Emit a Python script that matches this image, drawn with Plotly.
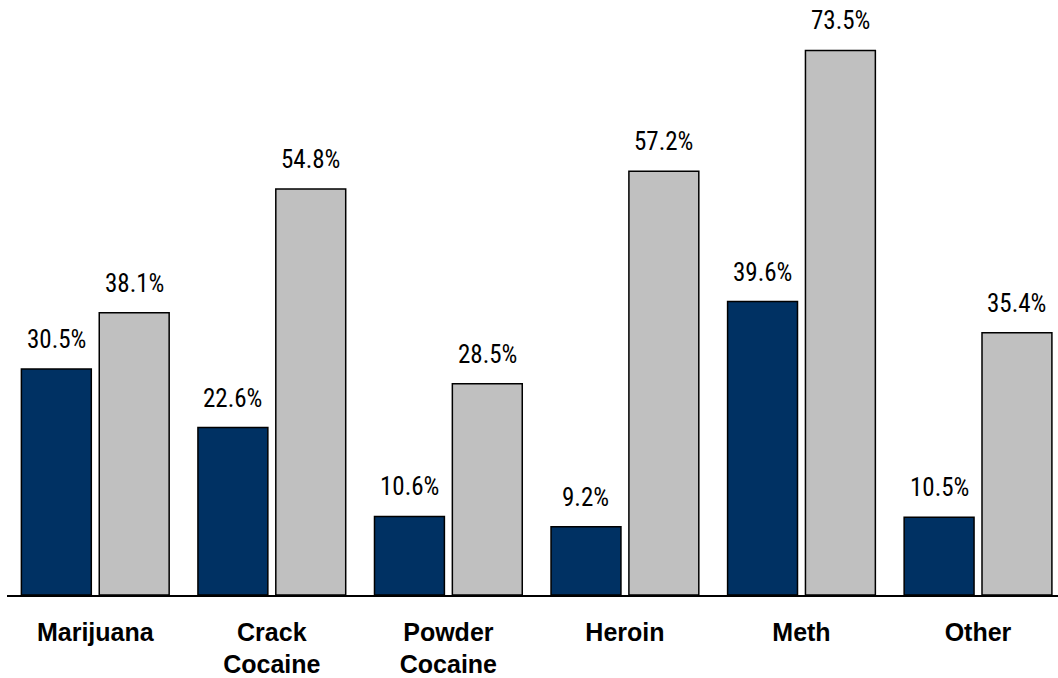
import plotly.graph_objects as go

categories = ["Marijuana", "Crack<br>Cocaine", "Powder<br>Cocaine", "Heroin", "Meth", "Other"]
series_a = [30.5, 22.6, 10.6, 9.2, 39.6, 10.5]
series_b = [38.1, 54.8, 28.5, 57.2, 73.5, 35.4]

navy = "#003163"
gray = "#C0C0C0"
bar_w = 0.396
gap = 0.045
off_a = -(bar_w + gap / 2)
off_b = gap / 2

x = list(range(len(categories)))

fig = go.Figure()
fig.add_trace(go.Bar(x=x, y=series_a, width=bar_w, offset=off_a,
                     marker=dict(color=navy, line=dict(color="black", width=1.5)),
                     showlegend=False, hoverinfo="skip"))
fig.add_trace(go.Bar(x=x, y=series_b, width=bar_w, offset=off_b,
                     marker=dict(color=gray, line=dict(color="black", width=1.5)),
                     showlegend=False, hoverinfo="skip"))

label_font = dict(family="Roboto Condensed, Liberation Sans Narrow, Roboto, sans-serif",
                  size=25, color="black")
for i in x:
    fig.add_annotation(x=i + off_a + bar_w / 2, y=series_a[i], text=f"{series_a[i]:.1f}%",
                       showarrow=False, yanchor="bottom", yshift=13, font=label_font)
    fig.add_annotation(x=i + off_b + bar_w / 2, y=series_b[i], text=f"{series_b[i]:.1f}%",
                       showarrow=False, yanchor="bottom", yshift=13, font=label_font)

fig.update_layout(
    width=1058, height=678,
    margin=dict(l=7, r=0, t=0, b=79),
    paper_bgcolor="white", plot_bgcolor="white",
    xaxis=dict(range=[-0.5, 5.453], tickmode="array", tickvals=x, ticktext=categories,
               showgrid=False, zeroline=False, showline=True, linecolor="black", linewidth=1.5,
               ticks="", ticklabelstandoff=14,
               tickfont=dict(family="Liberation Sans, Arial, sans-serif", size=25, color="black",
                             weight="bold")),
    yaxis=dict(range=[0, 80.3], visible=False, showgrid=False, zeroline=False),
)

fig.write_html("out.html", config={"displayModeBar": False},
               post_script="document.body.style.margin='0';")
